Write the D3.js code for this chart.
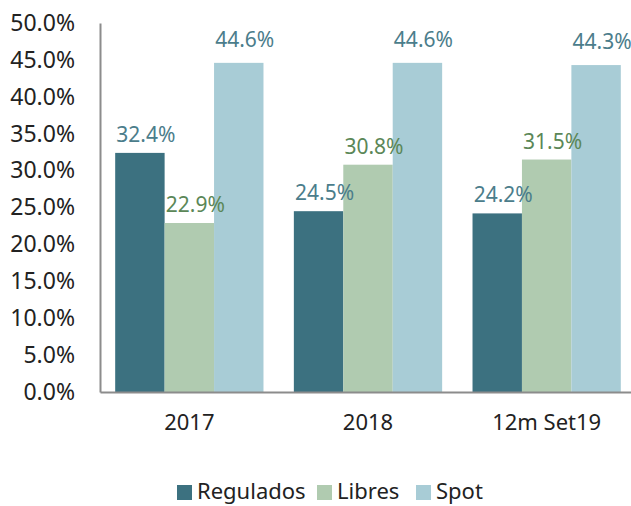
<!DOCTYPE html>
<html>
<head>
<meta charset="utf-8">
<script src="https://cdn.jsdelivr.net/npm/d3@7"></script>
<style>
  body { margin: 0; background: #fff; }
  text { font-family: "Noto Sans", sans-serif; }
</style>
</head>
<body>
<div id="chart"></div>
<script>
const categories = ["2017", "2018", "12m Set19"];
const series = ["Regulados", "Libres", "Spot"];
const regulados = [32.4, 24.5, 24.2];
const libres = [22.9, 30.8, 31.5];
const spot = [44.6, 44.6, 44.3];
const yTicks = [0, 5, 10, 15, 20, 25, 30, 35, 40, 45, 50];

const W = 631, H = 506;
const m = {top: 23, right: -5, bottom: 114, left: 100};

const fills = {Regulados: "#3c7180", Libres: "#b0cbb0", Spot: "#a8ccd6"};
const labelFills = {Regulados: "#4b7d8b", Libres: "#5b8757", Spot: "#4b7d8b"};

const values = {Regulados: regulados, Libres: libres, Spot: spot};

const svg = d3.select("#chart").append("svg")
  .attr("width", W).attr("height", H);

const x0 = d3.scaleBand()
  .domain(categories)
  .range([m.left, W - m.right])
  .paddingInner(0.17)
  .paddingOuter(0.085);

const x1 = d3.scaleBand()
  .domain(series)
  .range([0, x0.bandwidth()]);

const y = d3.scaleLinear()
  .domain([0, 50])
  .range([H - m.bottom, m.top]);

// bars + labels
const groups = svg.append("g").selectAll("g")
  .data(categories)
  .join("g")
  .attr("transform", d => `translate(${x0(d)},0)`);

groups.selectAll("rect")
  .data((c, i) => series.map(s => ({s, v: values[s][i]})))
  .join("rect")
  .attr("x", d => x1(d.s))
  .attr("y", d => y(d.v))
  .attr("width", x1.bandwidth())
  .attr("height", d => y(0) - y(d.v))
  .attr("fill", d => fills[d.s]);

groups.selectAll("text")
  .data((c, i) => series.map(s => ({s, v: values[s][i]})))
  .join("text")
  .attr("x", d => x1(d.s) + x1.bandwidth() / 2 + 6)
  .attr("y", d => y(d.v) - (d.s === "Spot" ? 16 : 11))
  .attr("text-anchor", "middle")
  .attr("font-size", 21)
  .attr("fill", d => labelFills[d.s])
  .text(d => d.v.toFixed(1) + "%");

// y axis
const yAxis = svg.append("g")
  .attr("transform", `translate(${m.left},0)`)
  .call(d3.axisLeft(y).tickValues(yTicks).tickSize(0).tickPadding(25)
    .tickFormat(d => d.toFixed(1) + "%"));
yAxis.select(".domain").attr("stroke", "#8c8c8c").attr("stroke-width", 2);
yAxis.selectAll("text").attr("font-size", 23).attr("fill", "#222")
  .attr("font-family", "Noto Sans, sans-serif");

// x axis
const xAxis = svg.append("g")
  .attr("transform", `translate(0,${y(0)})`)
  .call(d3.axisBottom(x0).tickSize(0).tickPadding(22));
xAxis.select(".domain").attr("stroke", "#8c8c8c").attr("stroke-width", 2);
xAxis.selectAll("text").attr("font-size", 22).attr("fill", "#222")
  .attr("font-family", "Noto Sans, sans-serif");

// legend
const legendX = [177, 317, 416];
const legend = svg.append("g").selectAll("g")
  .data(series)
  .join("g")
  .attr("transform", (d, i) => `translate(${legendX[i]},485)`);
legend.append("rect")
  .attr("width", 15).attr("height", 15)
  .attr("fill", d => fills[d]);
legend.append("text")
  .attr("x", 20).attr("y", 14)
  .attr("font-size", 22).attr("fill", "#222")
  .text(d => d);
</script>
</body>
</html>
